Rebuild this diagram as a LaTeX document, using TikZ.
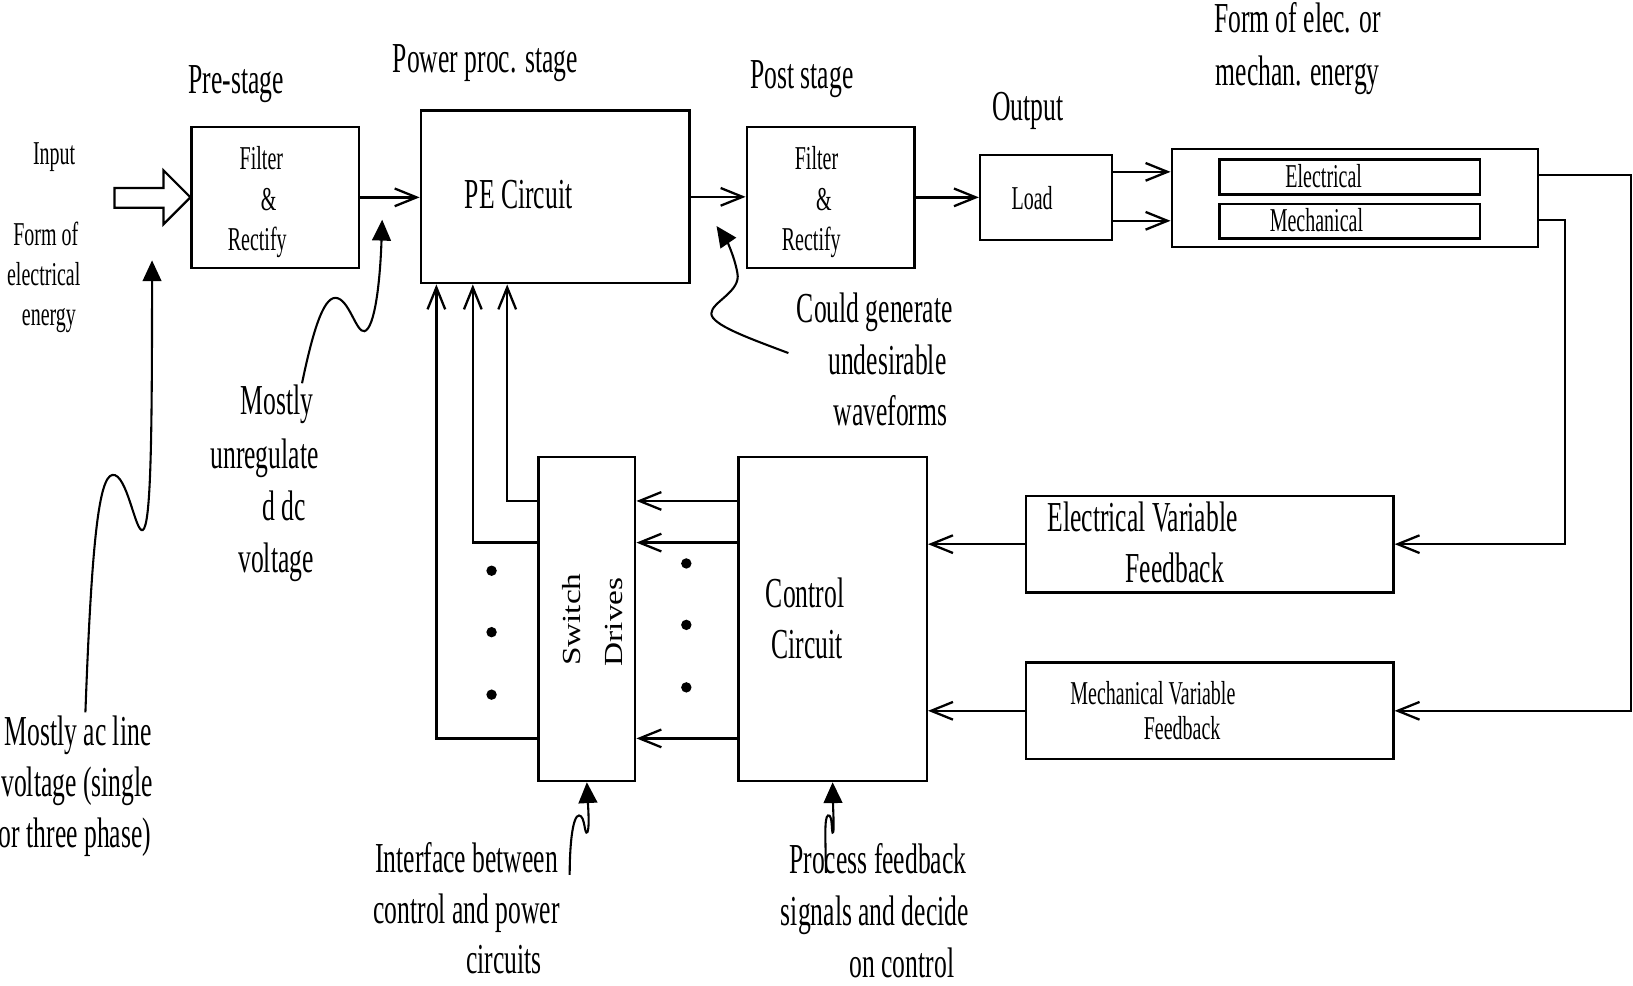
\documentclass[tikz,border=0pt]{standalone}
\usepackage{fontspec}
\setmainfont{Liberation Serif}[FakeStretch=0.6]
\newfontfamily\rotfont{Liberation Serif}[FakeStretch=1.28]
\usetikzlibrary{arrows.meta,calc}
\tikzset{
  box/.style={draw, line width=2.2pt, inner sep=0pt},
  inbox/.style={draw, line width=2.6pt, inner sep=0pt},
  big/.style={inner sep=0pt, font=\fontsize{41}{50}\selectfont, text height=25pt, text depth=5pt},
  small/.style={inner sep=0pt, font=\fontsize{32}{39}\selectfont, text height=24pt, text depth=4pt},
  rot/.style={inner sep=0pt, rotate=90, font=\rotfont\fontsize{25}{30}\selectfont},
  arr/.style={line width=2.2pt, -{Straight Barb[length=21pt,width=17pt,line width=2.2pt]}},
  note/.style={line width=2pt, -{Triangle[length=20pt,width=18pt]}},
  hollow/.style={line width=2.2pt, line join=miter},
}
\begin{document}
\begin{tikzpicture}[x=1pt,y=-1pt]
\useasboundingbox (0,0) rectangle (1568,946);

% ---- boxes ----
\node[box, minimum width=161pt, minimum height=135pt] (pre) at (264.5,189.5) {};
\node[box, minimum width=258pt, minimum height=166pt] (pe) at (533,189) {};
\node[box, minimum width=161pt, minimum height=135pt] (post) at (797.5,189.5) {};
\node[box, minimum width=127pt, minimum height=82pt] (load) at (1004.5,189.5) {};
\node[box, minimum width=352pt, minimum height=94pt] (energy) at (1301,190) {};
\node[inbox, minimum width=250pt, minimum height=34pt] (elecin) at (1296,170) {};
\node[inbox, minimum width=250pt, minimum height=33pt] (mechin) at (1296,212.5) {};
\node[box, minimum width=353pt, minimum height=93pt] (efb) at (1161.5,522.5) {};
\node[box, minimum width=353pt, minimum height=93pt] (mfb) at (1161.5,682.5) {};
\node[box, minimum width=181pt, minimum height=311pt] (ctrl) at (799.5,594.5) {};
\node[box, minimum width=93pt, minimum height=311pt] (sw) at (563.5,594.5) {};

% ---- texts in boxes ----
\node[small] (pt1) at (251,153) {Filter};
\node[small] (pt2) at (258,192) {\&};
\node[small] (pt3) at (247,231) {Rectify};
\node[big] (pet) at (498,190) {PE Circuit};
\node[small] (qt1) at (784,153) {Filter};
\node[small] (qt2) at (791,192) {\&};
\node[small] (qt3) at (779,231) {Rectify};
\node[small] (lt) at (991,191) {Load};
\node[small] (et) at (1271,170) {Electrical};
\node[small] (mt) at (1264,212) {Mechanical};
\node[big] (ef1) at (1097,500) {Electrical Variable};
\node[big] (ef2) at (1128,549) {Feedback};
\node[small] (mf1) at (1107,666) {Mechanical Variable};
\node[small] (mf2) at (1135,700) {Feedback};
\node[big] (ct1) at (773,573) {Control};
\node[big] (ct2) at (775,622) {Circuit};
\node[rot] (sw1) at (549,595) {Switch};
\node[rot] (sw2) at (590,597) {Drives};

% ---- stage labels ----
\node[big] (l1) at (227,80) {Pre-stage};
\node[big] (l2) at (466,60) {Power proc. stage};
\node[big] (l3) at (770,75) {Post stage};
\node[big] (l4) at (987,106) {Output};
\node[big] (l5) at (1246,21) {Form of elec. or};
\node[big] (l6) at (1246,72) {mechan. energy};
\node[small] (in1) at (52,148) {Input};
\node[small] (in2) at (44,226) {Form of};
\node[small] (in3) at (42,264) {electrical};
\node[small] (in4) at (47,303) {energy};

% ---- annotations ----
\node[big] (mu1) at (266,388) {Mostly};
\node[big] (mu2) at (254,440) {unregulate};
\node[big] (mu3) at (273,490) {d dc};
\node[big] (mu4) at (265,540) {voltage};
\node[big] (cg1) at (840,300) {Could generate};
\node[big] (cg2) at (852,350) {undesirable};
\node[big] (cg3) at (855,399) {waveforms};
\node[big] (ac1) at (75,706) {Mostly ac line};
\node[big] (ac2) at (74,755) {voltage (single};
\node[big] (ac3) at (72,804) {or three phase)};
\node[big] (if1) at (448,828) {Interface between};
\node[big] (if2) at (448,877) {control and power};
\node[big] (if3) at (484,925) {circuits};
\node[big] (pf1) at (843,829) {Process feedback};
\node[big] (pf2) at (840,879) {signals and decide};
\node[big] (pf3) at (866,929) {on control};

% ---- input hollow arrow ----
\draw[hollow] (pre.west) -- ++(-26,-26) -- ++(0,17) -- ++(-47,0) -- ++(0,19)
  -- ++(47,0) -- ++(0,16) -- cycle;

% ---- main chain ----
\draw[arr] (pre.east) -- (pre.east -| pe.west);
\draw[arr] (pe.east) -- (pe.east -| post.west);
\draw[arr] (post.east) -- (post.east -| load.west);
\coordinate (ya) at (0,165);
\coordinate (yb) at (0,212);
\draw[arr] (load.east |- ya) -- (energy.west |- ya);
\draw[arr] (load.east |- yb) -- (energy.west |- yb);

% ---- feedback loops ----
\coordinate (f1) at (1566,168);
\coordinate (f2) at (1503,211);
\draw[arr] (energy.east |- f1) -- (f1) -- (f1 |- mfb.east) -- (mfb.east);
\draw[arr] (energy.east |- f2) -- (f2) -- (f2 |- efb.east) -- (efb.east);
\draw[arr] (efb.west) -- (efb.west -| ctrl.east);
\draw[arr] (mfb.west) -- (mfb.west -| ctrl.east);

% ---- control to switch drives ----
\coordinate (r1) at (0,481);
\coordinate (r2) at (0,521);
\coordinate (r3) at (0,709);
\draw[arr] (ctrl.west |- r1) -- (sw.east |- r1);
\draw[arr] (ctrl.west |- r2) -- (sw.east |- r2);
\draw[arr] (ctrl.west |- r3) -- (sw.east |- r3);

% ---- switch drives to PE ----
\coordinate (c1) at (487,481);
\coordinate (c2) at (454,521);
\coordinate (c3) at (419,709);
\draw[arr] (sw.west |- c1) -- (c1) -- (c1 |- pe.south);
\draw[arr] (sw.west |- c2) -- (c2) -- (c2 |- pe.south);
\draw[arr] (sw.west |- c3) -- (c3) -- (c3 |- pe.south);

% ---- dots ----
\foreach \yy in {548,607,667} \fill (472,\yy) circle (5);
\foreach \yy in {541,600,660} \fill (659,\yy) circle (5);

% ---- annotation arrows ----
\coordinate (n1) at (82,684);
\coordinate (n1t) at (146,250);
\draw[note] (n1) .. controls (88,520) and (95,458) .. (108,456)
  .. controls (122,454) and (130,512) .. (137,509)
  .. controls (145,505) and (146,420) .. (n1t);

\coordinate (n2) at (290,368);
\coordinate (n2t) at (367,211);
\draw[note] (n2) .. controls (300,320) and (310,286) .. (322,286)
  .. controls (335,286) and (342,320) .. (350,318)
  .. controls (360,315) and (365,270) .. (n2t);

\coordinate (n3) at (757,339);
\coordinate (n3t) at (688,217);
\draw[note] (n3) .. controls (720,325) and (683,312) .. (683,301)
  .. controls (683,290) and (712,280) .. (708,262)
  .. controls (705,245) and (697,230) .. (n3t);

\coordinate (n4) at (547,840);
\draw[note] (n4) .. controls (547,810) and (550,783) .. (556,783)
  .. controls (562,783) and (561,803) .. (564,799)
  .. controls (566,795) and (565,780) .. (sw.south);

\coordinate (n5) at (793,838);
\draw[note] (n5) .. controls (793,810) and (791,785) .. (795,783)
  .. controls (800,781) and (798,803) .. (800,799)
  .. controls (801,795) and (800,780) .. (ctrl.south);
\end{tikzpicture}
\end{document}
